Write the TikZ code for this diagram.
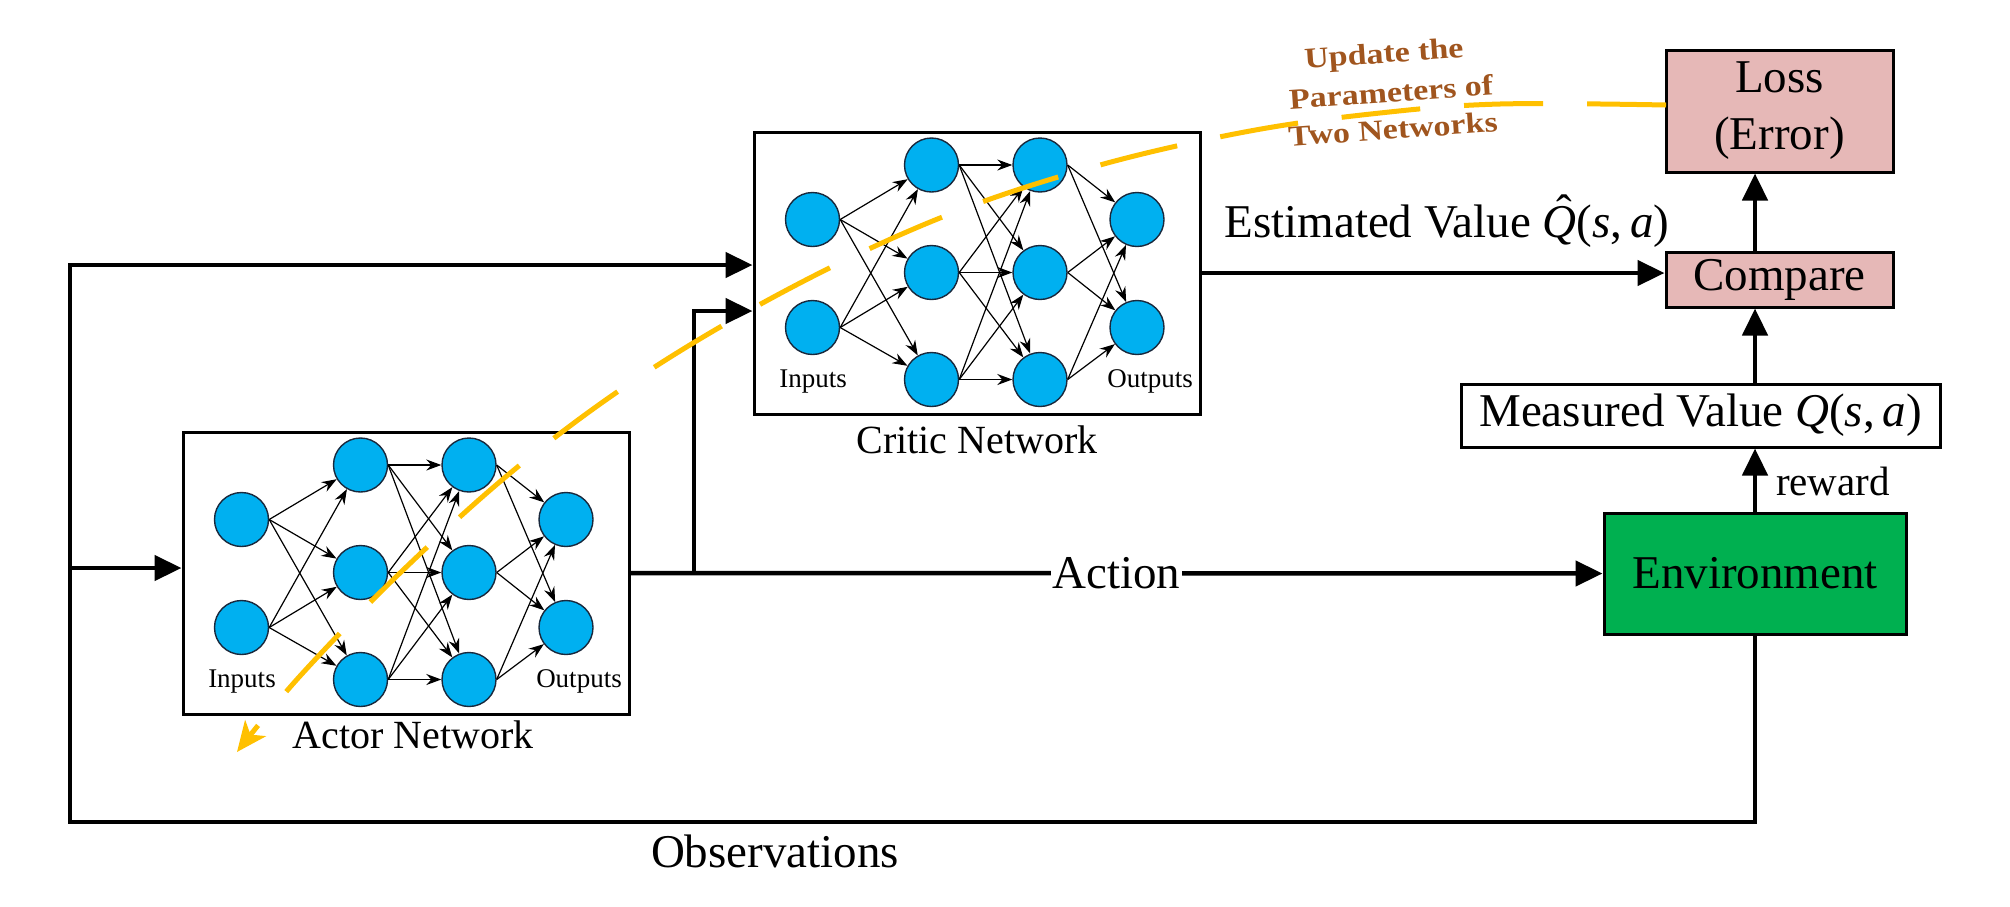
\documentclass[tikz,border=0pt]{standalone}
\usepackage{fontspec}
\setmainfont{Liberation Serif}
\usetikzlibrary{arrows.meta,calc}
\definecolor{nblue}{RGB}{0,176,240}
\definecolor{nedge}{RGB}{25,40,60}
\definecolor{lpink}{RGB}{230,184,183}
\definecolor{egreen}{RGB}{0,176,80}
\definecolor{uorange}{RGB}{255,192,0}
\definecolor{ubrown}{RGB}{160,85,30}
\newcommand{\fsz}[2]{\fontsize{#1}{#2}\selectfont}
\newcommand{\qhat}{\ooalign{\textit{Q}\cr\hidewidth\hspace{0.18em}\raisebox{0.2em}{ˆ}\hidewidth\cr}}
\newcommand{\drawnet}[3]{%
  \node[netbox] (#1) at (#2+223,#3+141) {};
  \foreach \nn/\dx/\dy in {a1/58.5/87.5, a2/58.5/195.5, b1/177.5/33, b2/177.5/140.5, b3/177.5/247.5, c1/286/33, c2/286/140.5, c3/286/247.5, d1/383/87.5, d2/383/195.5}
    \node[neuron] (#1\nn) at (#2+\dx,#3+\dy) {};
  \foreach \s in {a1,a2}{\foreach \t in {b1,b2,b3}{\draw[nnarrow] (#1\s.east) -- (#1\t);}}
  \foreach \s in {b1,b2,b3}{\foreach \t in {c1,c2,c3}{\draw[nnarrow] (#1\s.east) -- (#1\t);}}
  \foreach \s in {c1,c2,c3}{\foreach \t in {d1,d2}{\draw[nnarrow] (#1\s.east) -- (#1\t);}}
  \node[smalltxt, anchor=base] (#1in) at (#2+59,#3+255) {Inputs};
  \node[smalltxt, anchor=base] (#1out) at (#2+396,#3+255) {Outputs};
}
\begin{document}
\begin{tikzpicture}[x=1pt,y=-1pt,
  netbox/.style={draw, line width=3pt, minimum width=446pt, minimum height=282pt, inner sep=0pt},
  neuron/.style={circle, fill=nblue, draw=nedge, line width=1.4pt, minimum size=54pt, inner sep=0pt},
  nnarrow/.style={line width=1.2pt, -{Stealth[length=15pt,width=11pt,inset=5pt]}},
  smalltxt/.style={font=\fsz{27}{32}, inner sep=0pt},
  bigtxt/.style={font=\fsz{47}{57}, inner sep=0pt},
  nettxt/.style={font=\fsz{40}{48}, inner sep=0pt},
  blk/.style={draw, line width=3pt, inner sep=0pt, font=\fsz{47}{57}, align=center},
  conn/.style={line width=4.5pt, -{Triangle[length=27pt,width=25pt]}},
  upd/.style={line width=5pt, color=uorange, dash pattern=on 79pt off 44pt, -{Stealth[length=30pt,width=26pt,inset=8pt]}},
  updtxt/.style={text=ubrown, font=\bfseries\fsz{29}{36}, rotate=4, inner sep=0pt}
]
\useasboundingbox (0,0) rectangle (2010,906);

% networks
\drawnet{actor}{183}{432}
\drawnet{critic}{754}{132}
\node[nettxt, anchor=base] (actorlbl) at (413,748) {Actor Network};
\node[nettxt, anchor=base] (criticlbl) at (977,453) {Critic Network};

% right column blocks
\node[blk, fill=lpink, minimum width=227pt, minimum height=122pt] (loss) at (1779.5,111) {Loss\\(Error)};
\node[blk, fill=lpink, minimum width=227pt, minimum height=55pt] (compare) at (1779.5,279.5) {Compare};
\node[blk, fill=white, minimum width=479pt, minimum height=63pt] (meas) at (1700.5,415.5) {Measured Value \textit{Q}(\textit{s},\,\textit{a})};
\node[blk, fill=egreen, minimum width=302pt, minimum height=121pt] (env) at (1755,573.5) {Environment};

% coordinates
\coordinate (tl) at (70,265);
\coordinate (bl) at (70,822);
\coordinate (ain) at (70,568);
\coordinate (br1) at (694,573);
\coordinate (cin2) at (694,311);
\coordinate (vx) at (1755,0);

% observations loop
\draw[conn, line join=miter] (env.south) |- (bl) -- (tl) -- (tl -| critic.west);
\draw[conn] (ain) -- (ain -| actor.west);
\node[bigtxt, anchor=base] (obs) at (775,867) {Observations};

% action
\draw[conn] (actor.east) -- node[pos=0.5, fill=white, inner sep=2pt, font=\fsz{47}{57}] (act) {Action} (env.west);
\draw[conn, line join=miter] (br1) -- (cin2) -- (cin2 -| critic.west);

% estimated value
\draw[conn] (critic.east) -- (critic.east -| compare.west);
\node[bigtxt, anchor=base] (est) at (1447,237) {Estimated Value \qhat(\textit{s},\,\textit{a})};

% vertical chain
\draw[conn] (vx |- env.north) -- (vx |- meas.south);
\node[font=\fsz{41}{48}, inner sep=0pt, anchor=base] (rew) at (1833,495) {reward};
\draw[conn] (vx |- meas.north) -- (vx |- compare.south);
\draw[conn] (vx |- compare.north) -- (vx |- loss.south);

% update curve
\coordinate (ups) at (1666,105);
\coordinate (upe) at (237,752);
\draw[upd] plot[smooth, tension=0.6] coordinates {(ups) (1500,104) (1380,113) (1250,131) (1100,165) (950,214) (800,283) (650,370) (520,465) (400,573) (300,676) (upe)};
\node[updtxt] (upd1) at (1384,56) {\scalebox{1.17}[1]{Update the}};
\node[updtxt] (upd2) at (1391,92) {\scalebox{1.17}[1]{Parameters of}};
\node[updtxt] (upd3) at (1393,129) {\scalebox{1.17}[1]{Two Networks}};
\end{tikzpicture}
\end{document}
